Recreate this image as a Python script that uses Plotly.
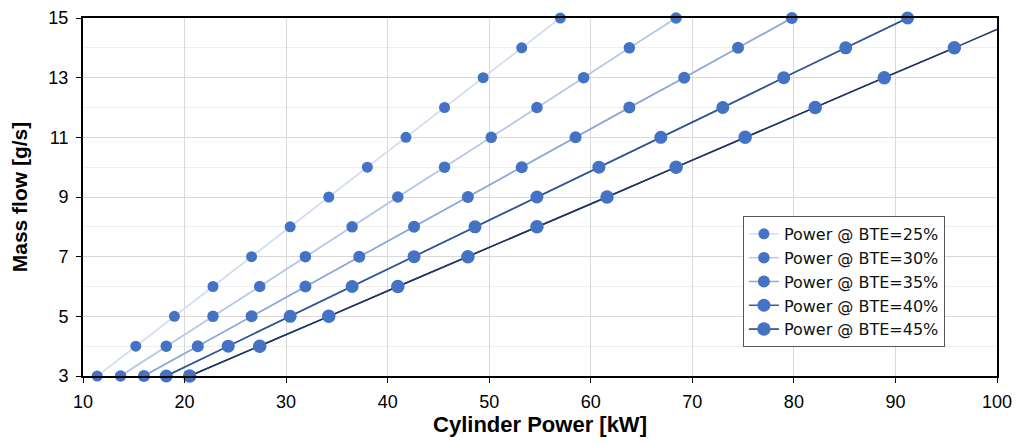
import plotly.graph_objects as go

mass_flow = [3, 4, 5, 6, 7, 8, 9, 10, 11, 12, 13, 14, 15]
p_bte25 = [11.4, 15.2, 19.0, 22.8, 26.6, 30.4, 34.2, 38.0, 41.8, 45.6, 49.4, 53.2, 57.0]
p_bte30 = [13.7, 18.2, 22.8, 27.4, 31.9, 36.5, 41.0, 45.6, 50.2, 54.7, 59.3, 63.8, 68.4]
p_bte35 = [16.0, 21.3, 26.6, 31.9, 37.2, 42.6, 47.9, 53.2, 58.5, 63.8, 69.2, 74.5, 79.8]
p_bte40 = [18.2, 24.3, 30.4, 36.5, 42.6, 48.6, 54.7, 60.8, 66.9, 73.0, 79.0, 85.1, 91.2]
p_bte45 = [20.5, 27.4, 34.2, 41.0, 47.9, 54.7, 61.6, 68.4, 75.2, 82.1, 88.9, 95.8, 102.6]
labels = ["Power @ BTE=25%", "Power @ BTE=30%", "Power @ BTE=35%",
          "Power @ BTE=40%", "Power @ BTE=45%"]
series = [p_bte25, p_bte30, p_bte35, p_bte40, p_bte45]
line_colors = ["#d3def0", "#b7c9e8", "#8eaadb", "#34599a", "#1f3864"]
marker_sizes = [11, 11.5, 12, 13, 13.5]
marker_color = "#4472c4"

x_min, x_max = 10, 100

fig = go.Figure()
for xs, lc in zip(series, line_colors):
    fig.add_trace(go.Scatter(x=xs, y=mass_flow, mode="lines",
                             line=dict(color=lc, width=1.5),
                             showlegend=False, hoverinfo="skip", cliponaxis=True))
for xs, lc, ms, name in zip(series, line_colors, marker_sizes, labels):
    pts = [(x, y) for x, y in zip(xs, mass_flow) if x <= x_max]
    fig.add_trace(go.Scatter(x=[p[0] for p in pts], y=[p[1] for p in pts],
                             mode="lines+markers", name=name,
                             line=dict(color=lc, width=1.5),
                             marker=dict(color=marker_color, size=ms,
                                         line=dict(width=0)),
                             cliponaxis=False))

fig.update_layout(
    width=1016, height=444,
    margin=dict(l=83, r=19, t=18, b=68),
    paper_bgcolor="white", plot_bgcolor="white",
    font=dict(family="Liberation Sans, Arial, sans-serif", size=18, color="#000000"),
    legend=dict(x=0.722, y=0.447, xanchor="left", yanchor="top",
                bgcolor="white", bordercolor="#555555", borderwidth=1,
                font=dict(size=16, family="DejaVu Sans, sans-serif", color="#111111"),
                tracegroupgap=0, itemwidth=30),
    showlegend=True,
)
fig.update_xaxes(range=[x_min, x_max], dtick=10, tick0=10, automargin=False,
                 showgrid=True, gridcolor="#d9d9d9", gridwidth=1,
                 showline=True, linecolor="black", linewidth=2, mirror=True,
                 ticks="outside", ticklen=5, tickcolor="black",
                 ticklabelstandoff=3,
                 zeroline=False,
                 title=dict(text="<b>Cylinder Power [kW]</b>", font=dict(size=22), standoff=5))
fig.update_yaxes(range=[3, 15], tickvals=[3, 5, 7, 9, 11, 13, 15], automargin=False,
                 showgrid=True, gridcolor="#d9d9d9", gridwidth=1,
                 minor=dict(dtick=1, tick0=3, showgrid=True, gridcolor="#efefef", gridwidth=1),
                 showline=True, linecolor="black", linewidth=2, mirror=True,
                 ticks="outside", ticklen=5, tickcolor="black",
                 ticklabelstandoff=4,
                 zeroline=False,
                 title=dict(text="<b>Mass flow [g/s]</b>", font=dict(size=21), standoff=15))

fig.write_html("out.html")
